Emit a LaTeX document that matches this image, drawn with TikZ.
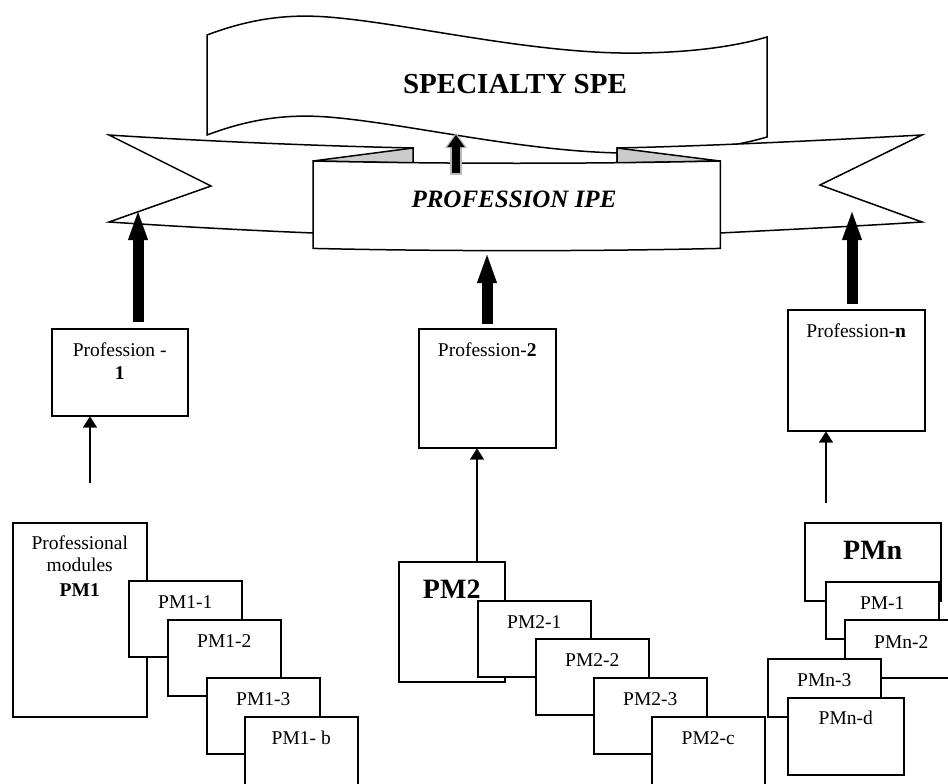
\documentclass[tikz,border=0pt]{standalone}
\usepackage{fontspec}
\setmainfont{Liberation Serif}
\usetikzlibrary{arrows.meta}
\begin{document}
\begin{tikzpicture}[x=1pt,y=-1pt,
  outline/.style={draw=black,line width=1.5pt,line join=miter},
  box/.style={outline,fill=white,anchor=north west,inner sep=0pt},
  pmbox/.style={box,minimum width=113pt,minimum height=76pt},
  txt/.style={inner sep=0pt,font=\fontsize{19.5}{23}\selectfont},
  boldtxt/.style={inner sep=0pt,font=\bfseries\fontsize{19.5}{23}\selectfont},
  bigtxt/.style={inner sep=0pt,font=\bfseries\fontsize{28}{32}\selectfont},
  bigarrow/.style={line width=11pt,-{Triangle[width=20pt,length=28pt,line width=0.1pt]}},
  thinarrow/.style={line width=1.4pt,-{Triangle[width=14pt,length=11pt,line width=0.1pt]}},
]
\useasboundingbox (0,0) rectangle (948,784);
\clip (0,0) rectangle (948,784);

% wavy scroll of the specialty
\draw[outline,fill=white] (207,35) .. controls (260,15) and (300,14) .. (339,18)
  .. controls (420,26) and (540,55) .. (641,53) .. controls (700,52) and (740,45) .. (767,37)
  -- (767,137) .. controls (740,145) and (700,152) .. (641,153)
  .. controls (540,155) and (420,126) .. (339,118) .. controls (300,114) and (260,115) .. (207,135) -- cycle;
\node[inner sep=0pt,font=\bfseries\fontsize{29}{34}\selectfont] (spe) at (515,84) {SPECIALTY SPE};

% ribbon ends behind the front band
\draw[outline,fill=white] (109,135) .. controls (200,141) and (320,146) .. (413,148) -- (413,240) -- (320,240)
  -- (313,233) .. controls (240,230) and (170,226) .. (109,222) -- (211,186) -- cycle;
\draw[outline,fill=white] (617,148) .. controls (710,146) and (830,140) .. (922,135) -- (820,185) -- (922,222)
  .. controls (860,226) and (780,230) .. (720,233) -- (713,240) -- (617,240) -- cycle;
% folds
\draw[outline,fill=gray!40] (313,161) -- (413,148) -- (413,163) -- cycle;
\draw[outline,fill=gray!40] (617,148) -- (720,161) -- (617,163) -- cycle;

% front band of the profession
\node[minimum width=407pt,minimum height=87pt,anchor=north west,inner sep=0pt] (ipe) at (313,161) {};
\draw[outline,fill=white] (ipe.north west) .. controls +(130,3) and +(-130,3) .. (ipe.north east)
  -- (ipe.south east) .. controls +(-130,3) and +(130,3) .. (ipe.south west) -- cycle;
\node[inner sep=0pt,font=\bfseries\itshape\fontsize{25}{30}\selectfont] (ipet) at (514,199) {PROFESSION IPE};

% arrow from the band up to the specialty
\coordinate (midtip) at (456,135);
\draw[gray!55,line width=12pt,shorten <=-14pt,-{Triangle[width=22pt,length=15pt,line width=0.1pt]}]
  (ipe.north -| midtip) -- ([yshift=2pt]midtip);
\draw[black,line width=8pt,shorten <=-12pt,-{Triangle[width=17pt,length=12pt,line width=0.1pt]}]
  (ipe.north -| midtip) -- (midtip);

% professions
\node[box,minimum width=136pt,minimum height=87pt] (p1) at (51,328) {};
\node[txt] (p1a) at ([yshift=-22pt]p1.north) {Profession -};
\node[boldtxt] (p1b) at ([yshift=-45pt]p1.north) {1};
\node[box,minimum width=137pt,minimum height=119pt] (p2) at (418,328) {};
\node[txt] (p2a) at ([yshift=-22pt]p2.north) {Profession-\textbf{2}};
\node[box,minimum width=137pt,minimum height=121pt] (pn) at (787,309) {};
\node[txt] (pna) at ([yshift=-22pt]pn.north) {Profession-\textbf{n}};

% thick arrows into the ribbon
\coordinate (a1) at (138,212);
\coordinate (a2) at (487,255);
\coordinate (an) at (852,212);
\draw[bigarrow,shorten <=6pt] (p1.north -| a1) -- (a1);
\draw[bigarrow,shorten <=4pt] (p2.north -| a2) -- (a2);
\draw[bigarrow,shorten <=5pt] (pn.north -| an) -- (an);

% modules of profession 1
\node[box,minimum width=134pt,minimum height=194pt] (pm1) at (12,522) {};
\node[txt] (pm1a) at ([yshift=-21pt]pm1.north) {Professional};
\node[txt] (pm1m) at ([yshift=-43pt]pm1.north) {modules};
\node[boldtxt] (pm1c) at ([yshift=-68pt]pm1.north) {PM1};
\node[pmbox] (pm11) at (128,580) {};
\node[txt] (pm11t) at ([yshift=-22pt]pm11.north) {PM1-1};
\node[pmbox] (pm12) at (167,619) {};
\node[txt] (pm12t) at ([yshift=-22pt]pm12.north) {PM1-2};
\node[pmbox] (pm13) at (206,677) {};
\node[txt] (pm13t) at ([yshift=-22pt]pm13.north) {PM1-3};
\node[pmbox] (pm1b) at (244,716) {};
\node[txt] (pm1bt) at ([yshift=-22pt]pm1b.north) {PM1- b};

% modules of profession 2
\node[box,minimum width=106pt,minimum height=120pt] (pm2) at (398,561) {};
\node[bigtxt] (pm2t) at ([yshift=-28pt]pm2.north) {PM2};
\node[pmbox] (pm21) at (477,600) {};
\node[txt] (pm21t) at ([yshift=-22pt]pm21.north) {PM2-1};
\node[pmbox] (pm22) at (535,638) {};
\node[txt] (pm22t) at ([yshift=-22pt]pm22.north) {PM2-2};
\node[pmbox] (pm23) at (593,677) {};
\node[txt] (pm23t) at ([yshift=-22pt]pm23.north) {PM2-3};
\node[pmbox] (pm2c) at (651,716) {};
\node[txt] (pm2ct) at ([yshift=-22pt]pm2c.north) {PM2-c};

% modules of profession n
\node[box,minimum width=136pt,minimum height=78pt] (pmn) at (804,522) {};
\node[bigtxt] (pmnt) at ([yshift=-28pt]pmn.north) {PMn};
\node[box,minimum width=113pt,minimum height=57pt] (pmn1) at (825,581) {};
\node[txt] (pmn1t) at ([yshift=-22pt]pmn1.north) {PM-1};
\node[box,minimum width=113pt,minimum height=58pt] (pmn2) at (844,619) {};
\node[txt] (pmn2t) at ([yshift=-23pt]pmn2.north) {PMn-2};
\node[box,minimum width=113pt,minimum height=58pt] (pmn3) at (767,658) {};
\node[txt] (pmn3t) at ([yshift=-22pt]pmn3.north) {PMn-3};
\node[box,minimum width=116pt,minimum height=77pt] (pmnd) at (787,697) {};
\node[txt] (pmndt) at ([yshift=-21pt]pmnd.north) {PMn-d};

% thin arrows from the modules to the professions
\coordinate (f1) at (90,483);
\coordinate (x2) at (477,500);
\coordinate (fn) at (826,503);
\draw[thinarrow] (f1) -- (f1 |- p1.south);
\draw[thinarrow] (x2 |- pm2.north) -- (x2 |- p2.south);
\draw[thinarrow] (fn) -- (fn |- pn.south);
\end{tikzpicture}
\end{document}
